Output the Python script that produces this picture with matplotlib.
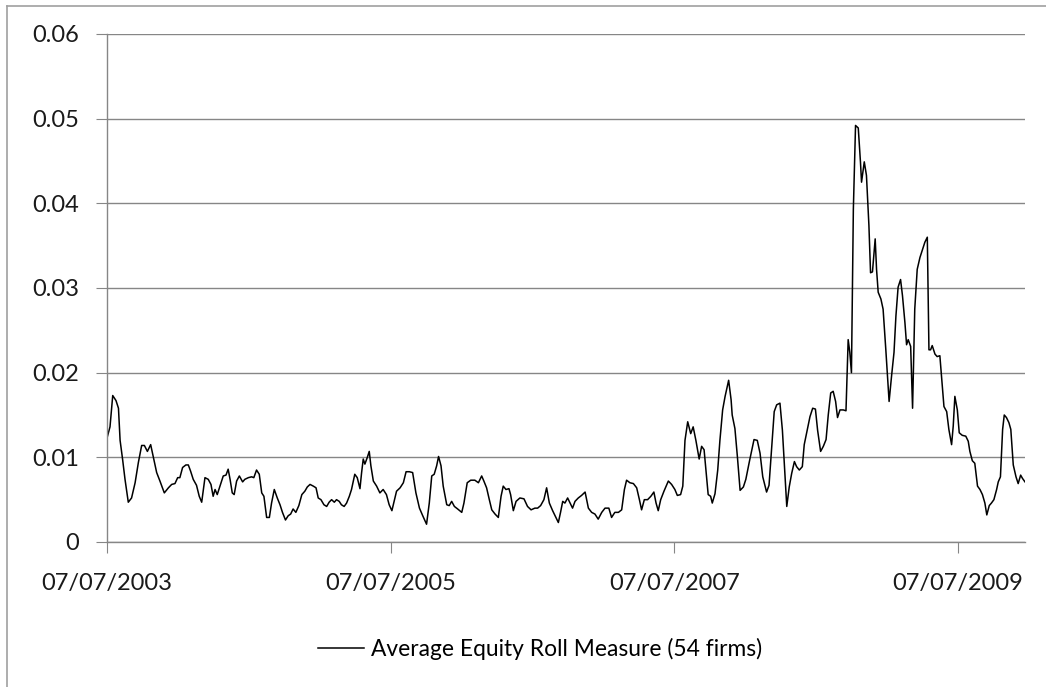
import numpy as np
import pandas as pd
import matplotlib
matplotlib.use('Agg')
import matplotlib.pyplot as plt
import matplotlib.dates as mdates
from matplotlib.lines import Line2D

# steps since 07/07/2003 and the average equity roll measure
# (one step ~ 7.03 days on the picture's time scale)
weeks = [
    0.1, 1.1, 2.1, 3.3, 4.2, 4.8, 5.7, 6.6, 7.8, 9.0, 10.3, 11.5, 12.7, 13.7, 14.8, 16.0,
    17.0, 18.2, 19.4, 21.0, 22.5, 23.7, 24.9, 25.9, 26.7, 27.7, 28.9, 29.8, 30.6, 31.6,
    32.8, 33.8, 34.7, 35.9, 37.1, 38.1, 38.9, 39.6, 40.4, 41.4, 42.6, 43.6, 44.4, 45.1,
    45.9, 46.6, 47.5, 48.5, 49.7, 50.5, 51.8, 53.0, 53.8, 54.8, 55.8, 56.7, 57.5, 58.5,
    59.5, 60.3, 61.3, 62.4, 63.4, 64.3, 65.4, 66.4, 67.3, 68.2, 69.2, 70.3, 71.4, 72.5,
    73.4, 74.4, 75.6, 76.6, 77.4, 78.4, 79.5, 80.5, 81.4, 82.3, 83.3, 84.1, 85.1, 85.9,
    86.9, 87.8, 88.8, 89.6, 90.8, 91.7, 92.7, 93.3, 93.9, 94.5, 95.4, 96.1, 96.7, 97.6,
    98.8, 100.0, 101.2, 102.4, 103.4, 104.4,
    106.1, 107.4, 108.6, 109.6, 110.8, 112.0, 113.2, 114.5, 115.7, 117.1, 118.1, 119.0,
    119.9, 120.8, 121.5, 122.4, 123.2, 124.5, 125.4, 126.3, 127.3, 128.5, 130.0, 130.8,
    132.0, 133.3, 134.8, 136.1, 137.3, 138.1, 139.1, 140.1, 141.0, 142.2, 143.4, 144.4,
    145.2, 146.2, 147.3, 147.9, 148.9, 149.9, 151.3, 152.8, 154.1, 155.4, 156.8, 157.8,
    158.9, 160.1, 161.1, 162.1, 163.3, 164.2, 165.4, 166.2, 167.0, 167.8, 168.8, 169.7,
    170.6, 171.5, 172.7, 173.9, 175.2, 176.4, 177.6, 178.8, 180.0, 181.3, 182.5, 183.9,
    184.9, 186.1, 187.4, 188.6, 189.6, 190.4, 191.6, 192.9, 194.1, 195.1, 195.9, 196.9,
    198.1, 199.3, 200.4, 201.2, 202.0, 202.9, 204.1, 205.7, 206.9, 208.1, 209.0, 210.2,
    211.0,
    211.8, 212.8, 213.9, 214.8, 215.8, 217.0, 217.9, 218.8, 219.7, 220.3, 221.2, 221.8,
    222.8, 223.8, 224.6, 225.6, 226.5, 227.8, 228.7, 229.1, 230.1, 231.0, 232.0, 233.2,
    234.1, 235.4, 236.2, 237.1, 238.3, 239.3, 240.3, 241.7, 242.6, 243.6, 244.5, 245.4,
    246.6, 247.5, 248.2, 249.1, 250.0, 250.9, 251.9, 252.7, 253.7, 254.8, 255.5, 256.6,
    257.6, 258.6, 259.6, 260.4, 261.5, 262.5, 263.5, 264.3, 265.2, 266.1, 267.0, 267.7,
    268.6, 269.8, 270.8,
    271.6, 272.2, 272.8, 273.5, 274.3, 275.3, 276.1, 276.5, 277.5, 278.3, 279.2, 279.8,
    280.5, 281.5, 282.0, 282.6, 283.6, 284.4, 285.4, 286.6, 287.5, 288.4, 289.1, 289.9,
    290.8, 291.5, 292.4, 293.0, 293.6, 294.5, 295.2, 296.0, 296.9, 297.9, 298.9, 299.7,
    300.6, 301.2, 301.8, 302.4, 303.4, 304.2, 305.2, 305.8, 306.7, 307.7, 308.5, 309.5,
    310.1, 310.7, 311.6, 312.3, 313.4, 314.7, 315.6, 316.2, 317.1, 318.0, 319.0, 319.9,
    320.8, 321.7, 322.4, 323.3, 324.1, 325.0, 326.0, 326.6, 327.4, 328.2, 328.8, 329.6,
    330.5, 331.2, 332.1, 333.1, 333.9, 334.8, 335.5, 336.4,
]
roll = [
    .0124, .0136, .0173, .0167, .0158, .0120, .0098, .0074, .0047, .0052, .0070, .0094,
    .0114, .0114, .0107, .0115, .0100, .0082, .0072, .0058, .0064, .0068, .0069, .0076,
    .0076, .0088, .0091, .0091, .0084, .0074, .0067, .0054, .0047, .0076, .0074, .0068,
    .0054, .0062, .0056, .0066, .0078, .0079, .0086, .0074, .0058, .0056, .0072, .0078,
    .0071, .0074, .0076, .0077, .0076, .0085, .0080, .0058, .0054, .0029, .0029, .0046,
    .0062, .0052, .0044, .0035, .0026, .0031, .0033, .0039, .0035, .0043, .0056, .0060,
    .0065, .0068, .0066, .0064, .0052, .0050, .0044, .0042, .0047, .0050, .0047, .0050,
    .0048, .0044, .0042, .0046, .0054, .0062, .0080, .0076, .0063, .0082, .0098, .0092,
    .0100, .0107, .0090, .0072, .0066, .0058, .0062, .0056, .0044, .0037,
    .0060, .0064, .0070, .0083, .0083, .0082, .0058, .0040, .0031, .0021, .0046, .0078,
    .0080, .0090, .0101, .0090, .0066, .0044, .0043, .0048, .0042, .0039, .0035, .0046,
    .0070, .0073, .0073, .0070, .0078, .0072, .0064, .0050, .0038, .0033, .0029, .0054,
    .0066, .0062, .0063, .0056, .0037, .0048, .0052, .0051, .0042, .0038, .0040, .0040,
    .0043, .0050, .0064, .0046, .0037, .0031, .0023, .0035, .0048, .0046, .0052, .0046,
    .0040, .0048, .0052, .0055, .0059, .0040, .0035, .0033, .0027, .0035, .0040, .0040,
    .0029, .0035, .0035, .0038, .0062, .0073, .0070, .0069, .0064, .0050, .0038, .0050,
    .0050, .0054, .0059, .0046, .0037, .0050, .0060, .0072, .0068, .0062, .0055, .0056,
    .0066,
    .0120, .0142, .0128, .0136, .0120, .0098, .0113, .0109, .0077, .0056, .0054, .0046,
    .0057, .0085, .0120, .0156, .0172, .0191, .0168, .0150, .0134, .0101, .0061, .0065,
    .0074, .0095, .0107, .0121, .0120, .0105, .0077, .0059, .0067, .0113, .0154, .0162,
    .0164, .0132, .0093, .0042, .0065, .0081, .0095, .0089, .0085, .0089, .0115, .0132,
    .0148, .0158, .0157, .0132, .0107, .0113, .0121, .0150, .0176, .0178, .0166, .0147,
    .0156, .0156, .0155,
    .0239, .0224, .0200, .0393, .0492, .0489, .0449, .0425, .0449, .0433, .0374, .0318,
    .0319, .0358, .0322, .0295, .0287, .0275, .0227, .0166, .0196, .0224, .0267, .0301,
    .0310, .0291, .0259, .0233, .0239, .0231, .0158, .0275, .0322, .0336, .0346, .0354,
    .0360, .0227, .0227, .0232, .0222, .0219, .0220, .0196, .0160, .0154, .0133, .0115,
    .0137, .0172, .0156, .0129, .0126, .0125, .0119, .0107, .0096, .0093, .0066, .0062,
    .0056, .0046, .0032, .0043, .0046, .0050, .0062, .0071, .0077, .0133, .0150, .0147,
    .0141, .0133, .0091, .0077, .0069, .0079, .0075, .0071,
]
tick_dates = ['2003-07-07', '2005-07-07', '2007-07-07', '2009-07-07']
y_ticks = [0, 0.01, 0.02, 0.03, 0.04, 0.05, 0.06]
series_name = 'Average Equity Roll Measure (54 firms)'

start = pd.Timestamp('2003-07-07')
dates = start + pd.to_timedelta(np.array(weeks) * 7.03, unit='D')

plt.rcParams['font.family'] = ['Lato', 'DejaVu Sans']
grey = '#868686'

fig = plt.figure(figsize=(10.46, 6.87), dpi=100)
ax = fig.add_axes([107 / 1046, 1 - 542 / 687, (1025 - 107) / 1046, (542 - 34) / 687])

ax.plot(dates, roll, color='black', lw=1.1, label=series_name)

ax.set_ylim(0, 0.06)
ax.set_yticks(y_ticks)
ax.set_yticklabels(['0' if v == 0 else '%.2f' % v for v in y_ticks])
ax.set_xlim(start, dates[-1])
ax.set_xticks(pd.to_datetime(tick_dates))
ax.xaxis.set_major_formatter(mdates.DateFormatter('%d/%m/%Y'))

ax.grid(axis='y', color=grey, lw=1)
ax.set_axisbelow(True)
for s in ['top', 'right']:
    ax.spines[s].set_visible(False)
for s in ['left', 'bottom']:
    ax.spines[s].set_color(grey)
    ax.spines[s].set_linewidth(1)
ax.tick_params(axis='y', length=8, color=grey, labelsize=17, pad=12, labelcolor='#1a1a1a')
ax.tick_params(axis='x', length=8, color=grey, labelsize=17, pad=14, labelcolor='#1a1a1a')

fig.legend(loc='center', bbox_to_anchor=(540 / 1046, 1 - 649 / 687), frameon=False,
           fontsize=16.4, handlelength=2.06, handletextpad=0.3)

# grey frame on the left and top of the picture
fig.add_artist(Line2D([7 / 1046, 7 / 1046], [0, 1 - 6 / 687], color='#a0a0a0', lw=1.2))
fig.add_artist(Line2D([7 / 1046, 1], [1 - 6 / 687, 1 - 6 / 687], color='#a0a0a0', lw=1.2))

fig.savefig('out.png', dpi=100)
